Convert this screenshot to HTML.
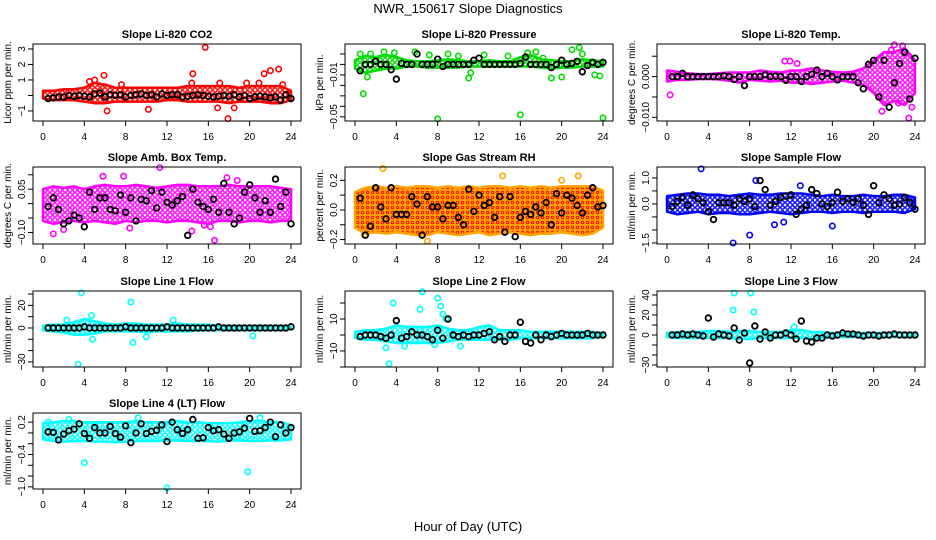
<!DOCTYPE html>
<html><head><meta charset="utf-8"><style>
body{margin:0;background:#fff;}
svg{display:block;font-family:"Liberation Sans",Arial,sans-serif;}
</style></head><body>
<svg id="chart" width="936" height="540" viewBox="0 0 936 540">
<defs>
<pattern id="p-red" width="5" height="5" patternUnits="userSpaceOnUse"><circle cx="2.5" cy="2.5" r="1.8" fill="none" stroke="#f00" stroke-width="1.4"/></pattern>
<pattern id="p-green" width="5" height="5" patternUnits="userSpaceOnUse"><circle cx="2.5" cy="2.5" r="1.8" fill="none" stroke="#0d0" stroke-width="1.4"/></pattern>
<pattern id="p-mag" width="5" height="5" patternUnits="userSpaceOnUse"><circle cx="2.5" cy="2.5" r="1.8" fill="none" stroke="#f0f" stroke-width="1.4"/></pattern>
<pattern id="p-orange" width="5" height="5" patternUnits="userSpaceOnUse"><rect width="5" height="5" fill="#ffa500"/><circle cx="2.5" cy="2.5" r="1.3" fill="none" stroke="#f00" stroke-width="0.9"/></pattern>
<pattern id="p-blue" width="5" height="5" patternUnits="userSpaceOnUse"><circle cx="2.5" cy="2.5" r="1.8" fill="none" stroke="#00f" stroke-width="1.4"/></pattern>
<pattern id="p-cyan" width="5" height="5" patternUnits="userSpaceOnUse"><circle cx="2.5" cy="2.5" r="1.8" fill="none" stroke="#0ff" stroke-width="1.4"/></pattern>
</defs>
<text x="468" y="13" text-anchor="middle" font-size="13">NWR_150617  Slope Diagnostics</text>
<text x="468" y="531" text-anchor="middle" font-size="13">Hour of Day (UTC)</text>
</svg>
<script>
// ---- data (hand-read estimates) ----
const bandHours=[0,1,2,3,4,5,6,7,8,9,10,11,12,13,14,15,16,17,18,19,20,21,22,23,24];
const blackHours=[0.5,1,1.5,2,2.5,3,3.5,4,4.5,5,5.5,6,6.5,7,7.5,8,8.5,9,9.5,10,10.5,11,11.5,12,12.5,13,13.5,14,14.5,15,15.5,16,16.5,17,17.5,18,18.5,19,19.5,20,20.5,21,21.5,22,22.5,23,23.5,24];

const co2Lo=[-0.2,-0.3,-0.3,-0.3,-0.4,-0.5,-0.5,-0.4,-0.4,-0.4,-0.4,-0.4,-0.3,-0.3,-0.4,-0.4,-0.4,-0.4,-0.5,-0.4,-0.4,-0.4,-0.5,-0.5,-0.3];
const co2Hi=[0.3,0.3,0.4,0.4,0.5,0.8,0.7,0.5,0.5,0.5,0.5,0.5,0.5,0.5,0.6,0.6,0.6,0.6,0.6,0.5,0.6,0.6,0.6,0.6,0.3];
const co2OutX=[5.9,6.2,4.5,5,7.6,10.2,14.5,14.4,15.7,16.9,17.1,17.9,19.7,20.9,21.4,22,22.8,18.5,23.2];
const co2OutY=[1.3,-1,0.9,1,0.7,-0.9,1.4,0.8,3.1,-0.8,0.8,-1.5,0.8,0.8,1.4,1.6,1.7,-0.8,0.7];
const co2Black=[-0.2,-0.15,-0.1,-0.1,0,-0.05,0,-0.05,-0.1,0.1,0.15,-0.1,0.05,0,0.05,-0.1,0,0.05,0.1,0,0.05,-0.1,0.1,0,0.05,0.05,-0.1,-0.05,0,0.05,0,-0.05,-0.1,-0.05,0,-0.05,0.05,-0.1,0,-0.2,-0.1,-0.05,-0.1,-0.15,-0.1,-0.3,0.05,-0.2];

const presLo=[-0.004,-0.008,-0.006,-0.004,-0.004,-0.002,-0.002,-0.003,-0.003,-0.003,-0.003,-0.002,-0.002,-0.002,-0.002,-0.002,-0.002,-0.002,-0.003,-0.004,-0.003,-0.003,-0.002,-0.002,-0.002];
const presHi=[0.004,0.008,0.007,0.009,0.007,0.004,0.003,0.003,0.004,0.005,0.004,0.003,0.003,0.004,0.003,0.003,0.007,0.009,0.005,0.004,0.003,0.003,0.005,0.004,0.003];
const presOutX=[0.5,0.8,1.5,2.8,3.8,5.8,7.2,8,9,10,11,11.2,12.5,14.8,16,16.7,17.5,18.2,19,20,21,21.7,22,23.2,23.7,24,1.2];
const presOutY=[0.01,-0.028,0.01,0.012,0.011,0.012,0.009,-0.052,0.01,0.008,-0.013,-0.008,0.009,0.008,-0.048,0.011,0.012,0.006,-0.013,-0.012,0.014,0.016,0.01,-0.01,-0.011,-0.051,-0.012];
const presBlack=[-0.006,0,0,0.003,0,0,-0.005,-0.014,0.001,0,0,0.01,0,0,0,0.005,-0.002,0,0,0,0,0,0.004,0.006,0,0,0,0,0,0,0,0.001,0.007,0,0,0,0,-0.003,0,0.004,0,0.001,0.003,-0.007,-0.001,0.002,0,0.002];

const tempLo=[-0.0012,-0.0008,-0.0008,-0.0006,-0.0006,-0.0007,-0.001,-0.0015,-0.0008,-0.001,-0.0012,-0.001,-0.0015,-0.0015,-0.0018,-0.0015,-0.0012,-0.001,-0.0015,-0.002,-0.004,-0.007,-0.006,-0.007,-0.004];
const tempHi=[0.0015,0.0012,0.0008,0.0006,0.0006,0.0008,0.001,0.001,0.001,0.0015,0.0012,0.001,0.0015,0.0015,0.002,0.0015,0.0012,0.001,0.0012,0.002,0.004,0.006,0.006,0.007,0.004];
const tempOutX=[0.3,11.4,11.9,12.6,21.7,22,22.4,22.8,23.4,20.8,23.7];
const tempOutY=[-0.0045,0.0038,0.0038,0.0032,0.0065,0.0078,-0.0065,0.0075,-0.0102,-0.0085,-0.0075];
const tempBlack=[0,0,0.0008,0,0,0,0,0,0,0,0.0002,0,-0.0007,0,-0.0022,0,0,0,0.0005,0,0.0001,0,-0.0009,0,0,-0.0012,0,0.0006,0.0016,0,0.0008,0,-0.0008,0,0,0,-0.0015,-0.003,0.003,0.004,-0.005,0.004,-0.0075,-0.0015,0.0032,0.006,-0.0055,0.0045];

const ambLo=[-0.06,-0.07,-0.065,-0.06,-0.065,-0.06,-0.065,-0.07,-0.06,-0.065,-0.06,-0.06,-0.065,-0.06,-0.06,-0.065,-0.07,-0.06,-0.06,-0.065,-0.06,-0.06,-0.065,-0.06,-0.06];
const ambHi=[0.05,0.06,0.055,0.06,0.05,0.06,0.065,0.06,0.06,0.065,0.06,0.055,0.06,0.065,0.065,0.06,0.06,0.06,0.065,0.06,0.06,0.06,0.06,0.055,0.05];
const ambOutX=[1,5.8,7.8,11.3,2,8.4,14.4,16.6,17.8,15.6,16.2,18.8];
const ambOutY=[-0.105,0.095,0.095,0.125,-0.09,-0.085,-0.095,-0.127,0.09,-0.075,-0.08,0.08];
const ambBlack=[-0.01,0.02,-0.02,-0.07,-0.06,-0.04,-0.05,-0.08,0.04,-0.02,0.02,0.02,-0.02,-0.025,0.03,-0.03,0.02,-0.06,0.015,0.01,0.045,-0.015,0.04,0.005,-0.005,0.01,0.025,-0.11,0.05,0.005,-0.01,-0.02,0.015,-0.03,0.07,-0.03,-0.07,-0.05,0.04,0.065,0.02,-0.03,0.01,-0.03,0.085,-0.01,0.04,-0.07];

const rhLo=[-0.12,-0.16,-0.15,-0.16,-0.15,-0.16,-0.17,-0.17,-0.15,-0.16,-0.17,-0.16,-0.15,-0.17,-0.16,-0.15,-0.16,-0.17,-0.16,-0.16,-0.15,-0.16,-0.17,-0.16,-0.12];
const rhHi=[0.12,0.15,0.16,0.15,0.16,0.15,0.16,0.16,0.15,0.16,0.15,0.16,0.15,0.16,0.16,0.15,0.16,0.15,0.16,0.15,0.16,0.16,0.16,0.16,0.13];
const rhOutX=[2.7,14.3,21.6,7,20,0.9];
const rhOutY=[0.28,0.23,0.23,-0.21,0.2,-0.17];
const rhBlack=[0.08,-0.17,-0.11,0.15,0.02,-0.06,0.15,-0.03,-0.03,-0.03,0.09,0.04,-0.17,0.09,0.02,0.02,-0.06,0.03,0.03,-0.05,-0.1,0.14,-0.01,0.1,0.03,0.05,-0.05,0.09,-0.15,0.09,-0.18,-0.05,-0.01,-0.03,0.02,-0.02,0.05,-0.1,0.11,-0.02,0.1,0.08,0.03,-0.02,0.1,0.15,0.02,0.03];

const sfLo=[-0.3,-0.4,-0.35,-0.3,-0.4,-0.35,-0.35,-0.4,-0.4,-0.35,-0.3,-0.35,-0.4,-0.35,-0.3,-0.3,-0.35,-0.3,-0.3,-0.35,-0.3,-0.3,-0.3,-0.35,-0.2];
const sfHi=[0.3,0.35,0.4,0.4,0.35,0.35,0.3,0.35,0.4,0.35,0.35,0.4,0.4,0.4,0.35,0.3,0.35,0.3,0.3,0.35,0.3,0.3,0.35,0.35,0.25];
const sfOutX=[3.3,6.4,8.6,8,10.4,11.3,16,12.9];
const sfOutY=[1.35,-1.5,0.9,-1.2,-0.8,-0.7,-0.85,0.7];
const sfBlack=[-0.1,0.1,0.25,-0.05,0.35,0.2,0.05,-0.3,-0.6,0.05,0.05,0.05,-0.05,0.2,0.1,0.2,-0.1,0.9,0.55,-0.05,0.1,0.25,0.3,0.35,-0.4,-0.2,-0.05,0.55,0.4,0,-0.1,0.05,0.45,0.1,0.2,0.05,0.2,-0.05,-0.4,0.7,0.05,0.35,0.2,-0.05,0,0.25,0.05,-0.2];

const l1Lo=[-2,-3,-4,-6,-6,-5,-3,-3,-3,-3,-4,-3,-3,-3,-3,-2,-2,-2,-2,-2,-2,-2,-2,-2,-1];
const l1Hi=[2,3,3,5,8,6,4,3,4,4,3,3,3,4,3,3,3,2,2,2,2,2,2,2,1];
const l1OutX=[3.7,3.4,8.5,8.7,4.7,4.8,10,2.3,12.6,20.3];
const l1OutY=[31,-32,23,-13,11,-10,-8,7,7,-7];
const l1Black=[0,0,0,0,0,0,0,1,0,0,0,0,0,0,0,1,0,0,0,0,0,0,0,1,0,0,0,0,0,0,0,0,0,1,0,0,0,0,0,0,0,0,0,0,0,0,0,1];

const l2Lo=[-2,-3,-3,-4,-5,-5,-5,-5,-5,-4,-3,-3,-3,-3,-3,-3,-2,-2,-2,-2,-2,-2,-2,-2,-1];
const l2Hi=[2,3,3,4,6,5,5,5,6,4,3,3,5,6,3,3,3,2,2,2,2,2,2,2,1];
const l2OutX=[3.7,6.3,6.5,8,8.3,8.5,8.8,3.3,3,4.8,7.7,10.2];
const l2OutY=[20,16,27,23,18,13,10,-18,-8,-7,-6,-7];
const l2Black=[-1,0,0,0,-1,-2,0,9,-2,-1,2,0,0,-1,-3,3,-2,10,0,-1,0,-1,0,0,1,2,-3,-1,-4,0,0,8,-4,-5,0,-3,0,-1,0,1,0,0,0,0,1,0,0,0];

const l3Lo=[-2,-3,-3,-3,-3,-3,-3,-4,-4,-3,-3,-3,-3,-3,-4,-3,-2,-2,-2,-2,-2,-2,-2,-2,-1];
const l3Hi=[2,3,3,3,4,4,3,4,4,3,3,3,5,5,3,3,2,2,2,2,2,2,2,2,1];
const l3OutX=[6.4,6.5,8.1,8.4,8.5,12.3];
const l3OutY=[25,42,42,23,9,8];
const l3Black=[0,0,1,0,1,0,-1,17,-2,1,0,-1,7,-5,2,-28,9,-4,3,-3,0,0,2,0,-4,14,-6,-7,-3,-3,0,-1,0,2,1,1,0,-1,0,0,-1,0,0,1,0,0,0,0];

const l4Lo=[-0.12,-0.15,-0.16,-0.15,-0.15,-0.16,-0.16,-0.17,-0.16,-0.15,-0.15,-0.15,-0.14,-0.14,-0.15,-0.15,-0.15,-0.16,-0.14,-0.14,-0.15,-0.15,-0.14,-0.14,-0.12];
const l4Hi=[0.18,0.2,0.22,0.22,0.2,0.2,0.2,0.2,0.2,0.22,0.2,0.2,0.2,0.22,0.2,0.2,0.18,0.18,0.18,0.2,0.22,0.22,0.2,0.2,0.15];
const l4OutX=[4,12,19.8,0.5,9.2,21,2.5];
const l4OutY=[-0.55,-1.02,-0.72,0.2,0.28,0.28,0.25];
const l4Black=[0.02,0.01,-0.13,-0.02,0.04,0.07,0.17,-0.01,-0.1,0.1,0.0,0.0,0.12,-0.01,-0.08,0.13,-0.18,0.0,0.17,-0.01,0.03,0.05,0.15,-0.16,0.2,0.06,-0.01,0.06,0.25,-0.1,-0.09,0.1,0.04,0.06,-0.02,-0.1,0.0,0.02,0.09,0.27,0.03,0.04,0.1,0.2,-0.07,0.15,0.0,0.1];

const xTicks=[0,4,8,12,16,20,24];

const panels=[
 {name:'co2',title:'Slope Li-820 CO2',ylab:'Licor ppm per min.',col:0,row:0,ymin:-1.65,ymax:3.32,ticks:[-1,0,1,2,3],labels:['-1','','1','2','3'],color:'#f00',pat:'p-red',lo:co2Lo,hi:co2Hi,ox:co2OutX,oy:co2OutY,bk:co2Black},
 {name:'pressure',title:'Slope Li-820 Pressure',ylab:'kPa per min.',col:1,row:0,ymin:-0.054,ymax:0.0195,ticks:[0.01,0,-0.01,-0.02,-0.03,-0.04,-0.05],labels:['','','-0.01','','','','-0.05'],color:'#0d0',pat:'p-green',lo:presLo,hi:presHi,ox:presOutX,oy:presOutY,bk:presBlack},
 {name:'temp',title:'Slope Li-820 Temp.',ylab:'degrees C per min.',col:2,row:0,ymin:-0.0109,ymax:0.008,ticks:[0.005,0,-0.005,-0.01],labels:['','0.000','','-0.010'],color:'#f0f',pat:'p-mag',lo:tempLo,hi:tempHi,ox:tempOutX,oy:tempOutY,bk:tempBlack},
 {name:'amb-box-temp',title:'Slope Amb. Box Temp.',ylab:'degrees C per min.',col:0,row:1,ymin:-0.14,ymax:0.127,ticks:[0.1,0.05,0,-0.05,-0.1],labels:['','0.05','','','-0.10'],color:'#f0f',pat:'p-mag',lo:ambLo,hi:ambHi,ox:ambOutX,oy:ambOutY,bk:ambBlack},
 {name:'gas-rh',title:'Slope Gas Stream RH',ylab:'percent per min.',col:1,row:1,ymin:-0.23,ymax:0.29,ticks:[0.2,0.1,0,-0.1,-0.2],labels:['0.2','','0.0','','-0.2'],color:'#ffa500',pat:'p-orange',lo:rhLo,hi:rhHi,ox:rhOutX,oy:rhOutY,bk:rhBlack},
 {name:'sample-flow',title:'Slope Sample Flow',ylab:'ml/min per min.',col:2,row:1,ymin:-1.54,ymax:1.42,ticks:[1,0.5,0,-0.5,-1,-1.5],labels:['1.0','','0.0','','','-1.5'],color:'#00f',pat:'p-blue',lo:sfLo,hi:sfHi,ox:sfOutX,oy:sfOutY,bk:sfBlack},
 {name:'line1-flow',title:'Slope Line 1 Flow',ylab:'ml/min per min.',col:0,row:2,ymin:-34.5,ymax:32.7,ticks:[30,20,10,0,-10,-20,-30],labels:['','20','','0','','','-30'],color:'#0ff',pat:'p-cyan',lo:l1Lo,hi:l1Hi,ox:l1OutX,oy:l1OutY,bk:l1Black},
 {name:'line2-flow',title:'Slope Line 2 Flow',ylab:'ml/min per min.',col:1,row:2,ymin:-20,ymax:27.5,ticks:[20,10,0,-10,-20],labels:['','10','','-10',''],color:'#0ff',pat:'p-cyan',lo:l2Lo,hi:l2Hi,ox:l2OutX,oy:l2OutY,bk:l2Black},
 {name:'line3-flow',title:'Slope Line 3 Flow',ylab:'ml/min per min.',col:2,row:2,ymin:-32,ymax:44,ticks:[40,30,20,10,0,-10,-20,-30],labels:['40','','20','','0','','','-30'],color:'#0ff',pat:'p-cyan',lo:l3Lo,hi:l3Hi,ox:l3OutX,oy:l3OutY,bk:l3Black},
 {name:'line4-flow',title:'Slope Line 4 (LT) Flow',ylab:'ml/min per min.',col:0,row:3,ymin:-1.04,ymax:0.37,ticks:[0.2,0,-0.2,-0.4,-0.6,-0.8,-1],labels:['0.2','','','-0.4','','','-1.0'],color:'#0ff',pat:'p-cyan',lo:l4Lo,hi:l4Hi,ox:l4OutX,oy:l4OutY,bk:l4Black}
];
const boxTops=[44,167,291,413], boxBots=[121,244,367,489];

const svg=document.getElementById('chart');
const NS='http://www.w3.org/2000/svg';
function mk(tag,attrs,parent){const e=document.createElementNS(NS,tag);for(const k in attrs)e.setAttribute(k,attrs[k]);(parent||svg).appendChild(e);return e;}

panels.forEach(p=>{
  const L=33+312*p.col, R=301+312*p.col, T=boxTops[p.row], B=boxBots[p.row];
  const xs=h=>L+10+h*(248/24);
  const ys=v=>B-(v-p.ymin)/(p.ymax-p.ymin)*(B-T);
  const g=mk('g',{});
  
  
  const t=mk('text',{x:(L+R)/2,y:T-6,'text-anchor':'middle','font-size':11,'font-weight':'bold'},g);
  t.textContent=p.title;
  
  
  const yl=mk('text',{x:0,y:0,'text-anchor':'middle','font-size':10,transform:`translate(${L-22},${(T+B)/2}) rotate(-90)`},g);
  yl.textContent=p.ylab;
  
  
  // band
  let d='';
  bandHours.forEach((h,i)=>{d+=(i?'L':'M')+xs(h).toFixed(1)+','+ys(p.hi[i]).toFixed(1);});
  for(let i=bandHours.length-1;i>=0;i--){d+='L'+xs(bandHours[i]).toFixed(1)+','+ys(p.lo[i]).toFixed(1);}
  const band=mk('path',{d:d+'Z',fill:'url(#'+p.pat+')',stroke:p.color,'stroke-width':2.5,'stroke-linejoin':'round'},g);
  
  
  // outliers
  p.ox.forEach((h,i)=>{
    const c=mk('circle',{cx:xs(h),cy:ys(p.oy[i]),r:2.7,fill:'none',stroke:p.color,'stroke-width':1.6},g);
    
    
  });
  // black points
  p.bk.forEach((v,i)=>{
    const c=mk('circle',{cx:xs(blackHours[i]),cy:ys(v),r:2.8,fill:'none',stroke:'#000','stroke-width':1.8},g);
    
    
  });
  // box
  const box=mk('rect',{x:L,y:T,width:R-L,height:B-T,fill:'none',stroke:'#000','stroke-width':1},g);
  
  
  // x ticks
  const xa=mk('g',{},g);
  
  
  mk('line',{x1:xs(0),x2:xs(24),y1:B,y2:B,stroke:'#000'},xa);
  xTicks.forEach(h=>{
    mk('line',{x1:xs(h),x2:xs(h),y1:B,y2:B+5,stroke:'#000'},xa);
    const tl=mk('text',{x:xs(h),y:B+19,'text-anchor':'middle','font-size':10},xa);
    tl.textContent=h;
  });
  // y ticks
  const ya=mk('g',{},g);
  
  
  p.ticks.forEach((v,i)=>{
    const y=ys(v);
    mk('line',{x1:L-5,x2:L,y1:y,y2:y,stroke:'#000'},ya);
    if(p.labels[i]){
      const tl=mk('text',{x:0,y:0,'text-anchor':'middle','font-size':10,transform:`translate(${L-8},${y}) rotate(-90)`},ya);
      tl.textContent=p.labels[i].replace('-','\u2212');
    }
  });
});
</script>
</body></html>
